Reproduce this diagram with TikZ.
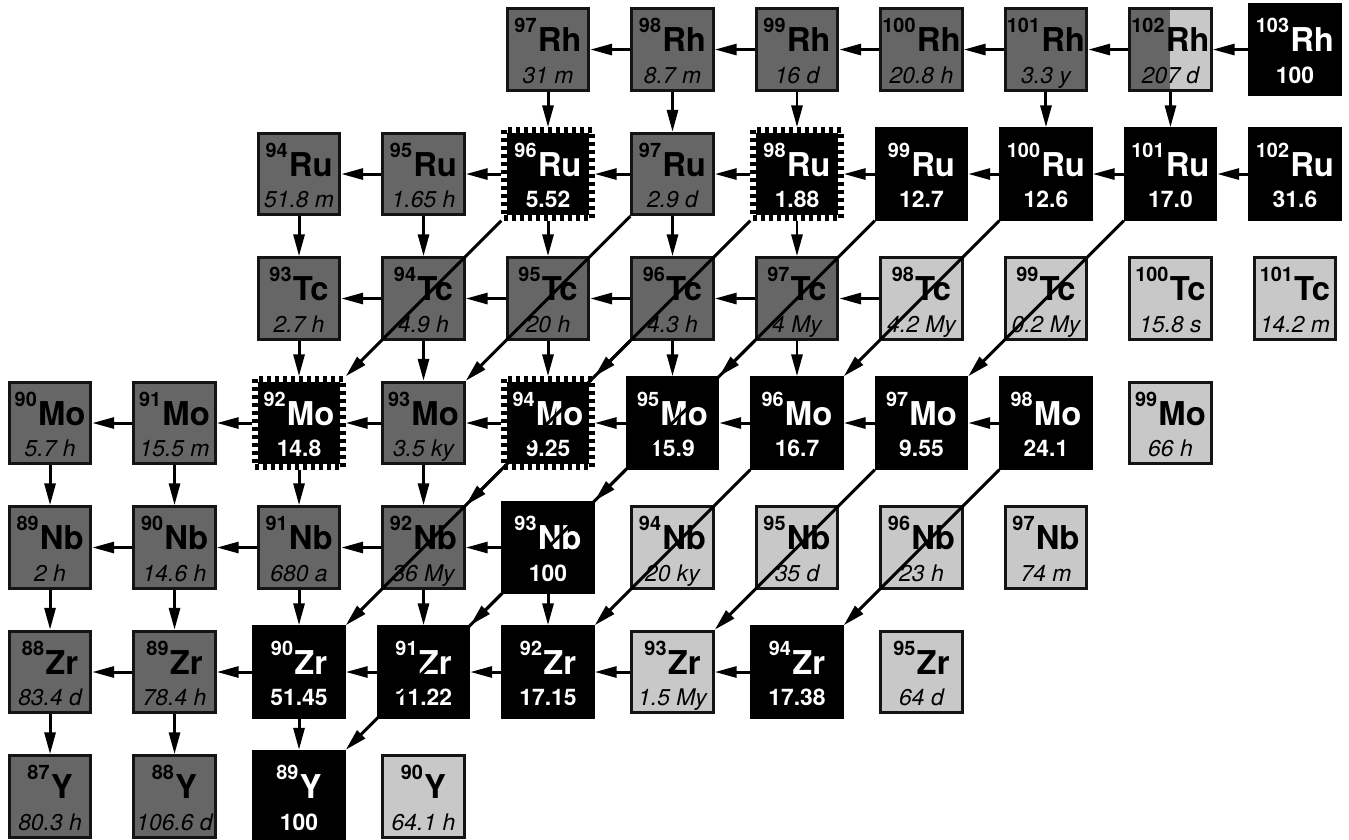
\documentclass[tikz,border=0pt]{standalone}
\usepackage{fontspec}
\setmainfont{TeX Gyre Heros}
\usetikzlibrary{arrows.meta}
\definecolor{NucGray}{RGB}{102,102,102}
\definecolor{NucLight}{RGB}{200,200,200}
\definecolor{NucEdge}{RGB}{20,20,20}
\newcommand{\iso}[2]{\raisebox{9.6pt}{\fontsize{10}{10}\selectfont\bfseries #1}\hspace{0.6pt}{\fontsize{16.5}{17}\selectfont\bfseries #2}}

\begin{document}
\begin{tikzpicture}[x=2.2cm, y=2.2cm,
    box/.style={rectangle, minimum size=1.44cm, inner sep=0pt, line width=1.5pt},
    unstable/.style={box, draw=NucEdge, fill=NucGray},
    longlived/.style={box, draw=NucEdge, fill=NucLight},
    stable/.style={box, minimum size={1.44cm+3pt}, line width=3pt, draw=black, fill=black},
    pnuc/.style={box, minimum size={1.44cm+3pt}, line width=3pt, fill=black, draw=white,
                 postaction={draw=black, line width=3pt, dash pattern=on 2pt off 2pt}},
    isolab/.style={anchor=base, inner sep=0pt, yshift=-1.2pt},
    halflife/.style={anchor=base, inner sep=0pt, yshift=-17pt, font=\fontsize{11.5}{12}\selectfont\itshape},
    abund/.style={anchor=base, inner sep=0pt, yshift=-17pt, font=\fontsize{11.5}{12}\selectfont\bfseries, text=white},
    flow/.style={-{Triangle[length=11pt, width=5.5pt]}, line width=1.5pt}]
  \useasboundingbox (-0.402,-0.349) rectangle (10.434,6.398);

  % ---- unstable (dark gray) ----
  \foreach \col/\row/\el/\A/\hl in {4/6/Rh/97/31 m, 5/6/Rh/98/8.7 m, 6/6/Rh/99/16 d,
        7/6/Rh/100/20.8 h, 8/6/Rh/101/3.3 y,
        2/5/Ru/94/51.8 m, 3/5/Ru/95/1.65 h, 5/5/Ru/97/2.9 d,
        2/4/Tc/93/2.7 h, 3/4/Tc/94/4.9 h, 4/4/Tc/95/20 h, 5/4/Tc/96/4.3 h, 6/4/Tc/97/4 My,
        0/3/Mo/90/5.7 h, 1/3/Mo/91/15.5 m, 3/3/Mo/93/3.5 ky,
        0/2/Nb/89/2 h, 1/2/Nb/90/14.6 h, 2/2/Nb/91/680 a, 3/2/Nb/92/36 My,
        0/1/Zr/88/83.4 d, 1/1/Zr/89/78.4 h,
        0/0/Y/87/80.3 h, 1/0/Y/88/106.6 d} {
    \node[unstable] (\el\A) at (\col,\row) {};
    \node[isolab] at (\el\A) {\iso{\A}{\el}};
    \node[halflife] at (\el\A) {\hl};
  }
  % 102Rh: two states
  \node[unstable, path picture={\fill[NucLight] (path picture bounding box.south)
        rectangle (path picture bounding box.north east);}] (Rh102) at (9,6) {};
  \node[isolab] at (Rh102) {\iso{102}{Rh}};
  \node[halflife] at (Rh102) {207 d};

  % ---- long-lived (light gray) ----
  \foreach \col/\row/\el/\A/\hl in {7/4/Tc/98/4.2 My, 8/4/Tc/99/0.2 My,
        9/4/Tc/100/15.8 s, 10/4/Tc/101/14.2 m, 9/3/Mo/99/66 h,
        5/2/Nb/94/20 ky, 6/2/Nb/95/35 d, 7/2/Nb/96/23 h, 8/2/Nb/97/74 m,
        5/1/Zr/93/1.5 My, 7/1/Zr/95/64 d, 3/0/Y/90/64.1 h} {
    \node[longlived] (\el\A) at (\col,\row) {};
    \node[isolab] at (\el\A) {\iso{\A}{\el}};
    \node[halflife] at (\el\A) {\hl};
  }

  % ---- stable (black) ----
  \foreach \col/\row/\el/\A/\ab in {10/6/Rh/103/100,
        7/5/Ru/99/12.7, 8/5/Ru/100/12.6, 9/5/Ru/101/17.0, 10/5/Ru/102/31.6,
        5/3/Mo/95/15.9, 6/3/Mo/96/16.7, 7/3/Mo/97/9.55, 8/3/Mo/98/24.1,
        4/2/Nb/93/100,
        2/1/Zr/90/51.45, 3/1/Zr/91/11.22, 4/1/Zr/92/17.15, 6/1/Zr/94/17.38,
        2/0/Y/89/100} {
    \node[stable] (\el\A) at (\col,\row) {};
    \node[isolab, white] at (\el\A) {\iso{\A}{\el}};
    \node[abund] at (\el\A) {\ab};
  }

  % ---- p-nuclei ----
  \foreach \col/\row/\el/\A/\ab in {4/5/Ru/96/5.52, 6/5/Ru/98/1.88,
        2/3/Mo/92/14.8, 4/3/Mo/94/9.25} {
    \node[pnuc] (\el\A) at (\col,\row) {};
    \node[isolab, white] at (\el\A) {\iso{\A}{\el}};
    \node[abund] at (\el\A) {\ab};
  }

  % (g,n)
  \foreach \el/\lo/\hi in {Rh/97/102, Ru/94/101, Tc/93/97, Mo/90/97, Nb/89/92, Zr/88/93} {
    \foreach \a in {\lo,...,\hi} {
      \pgfmathtruncatemacro{\b}{\a+1}
      \draw[flow] (\el\b) -- (\el\a);
    }
  }
  % (g,p)
  \foreach \from/\to in {Rh97/Ru96, Rh98/Ru97, Rh99/Ru98, Rh101/Ru100, Rh102/Ru101,
        Ru94/Tc93, Ru95/Tc94, Ru96/Tc95, Ru97/Tc96, Ru98/Tc97,
        Tc93/Mo92, Tc94/Mo93, Tc95/Mo94, Tc96/Mo95, Tc97/Mo96,
        Mo90/Nb89, Mo91/Nb90, Mo92/Nb91, Mo93/Nb92,
        Nb89/Zr88, Nb90/Zr89, Nb91/Zr90, Nb92/Zr91, Nb93/Zr92,
        Zr88/Y87, Zr89/Y88, Zr90/Y89}
    \draw[flow] (\from) -- (\to);
  % (g,a)
  \foreach \from/\to in {Ru96/Mo92, Ru97/Mo93, Ru98/Mo94, Tc96/Nb92, Mo94/Zr90,
        Ru99/Mo95, Tc97/Nb93, Mo95/Zr91, Nb93/Y89,
        Ru100/Mo96, Mo96/Zr92, Ru101/Mo97, Mo97/Zr93, Mo98/Zr94}
    \draw[flow] (\from.south west) -- (\to.north east);
\end{tikzpicture}
\end{document}
